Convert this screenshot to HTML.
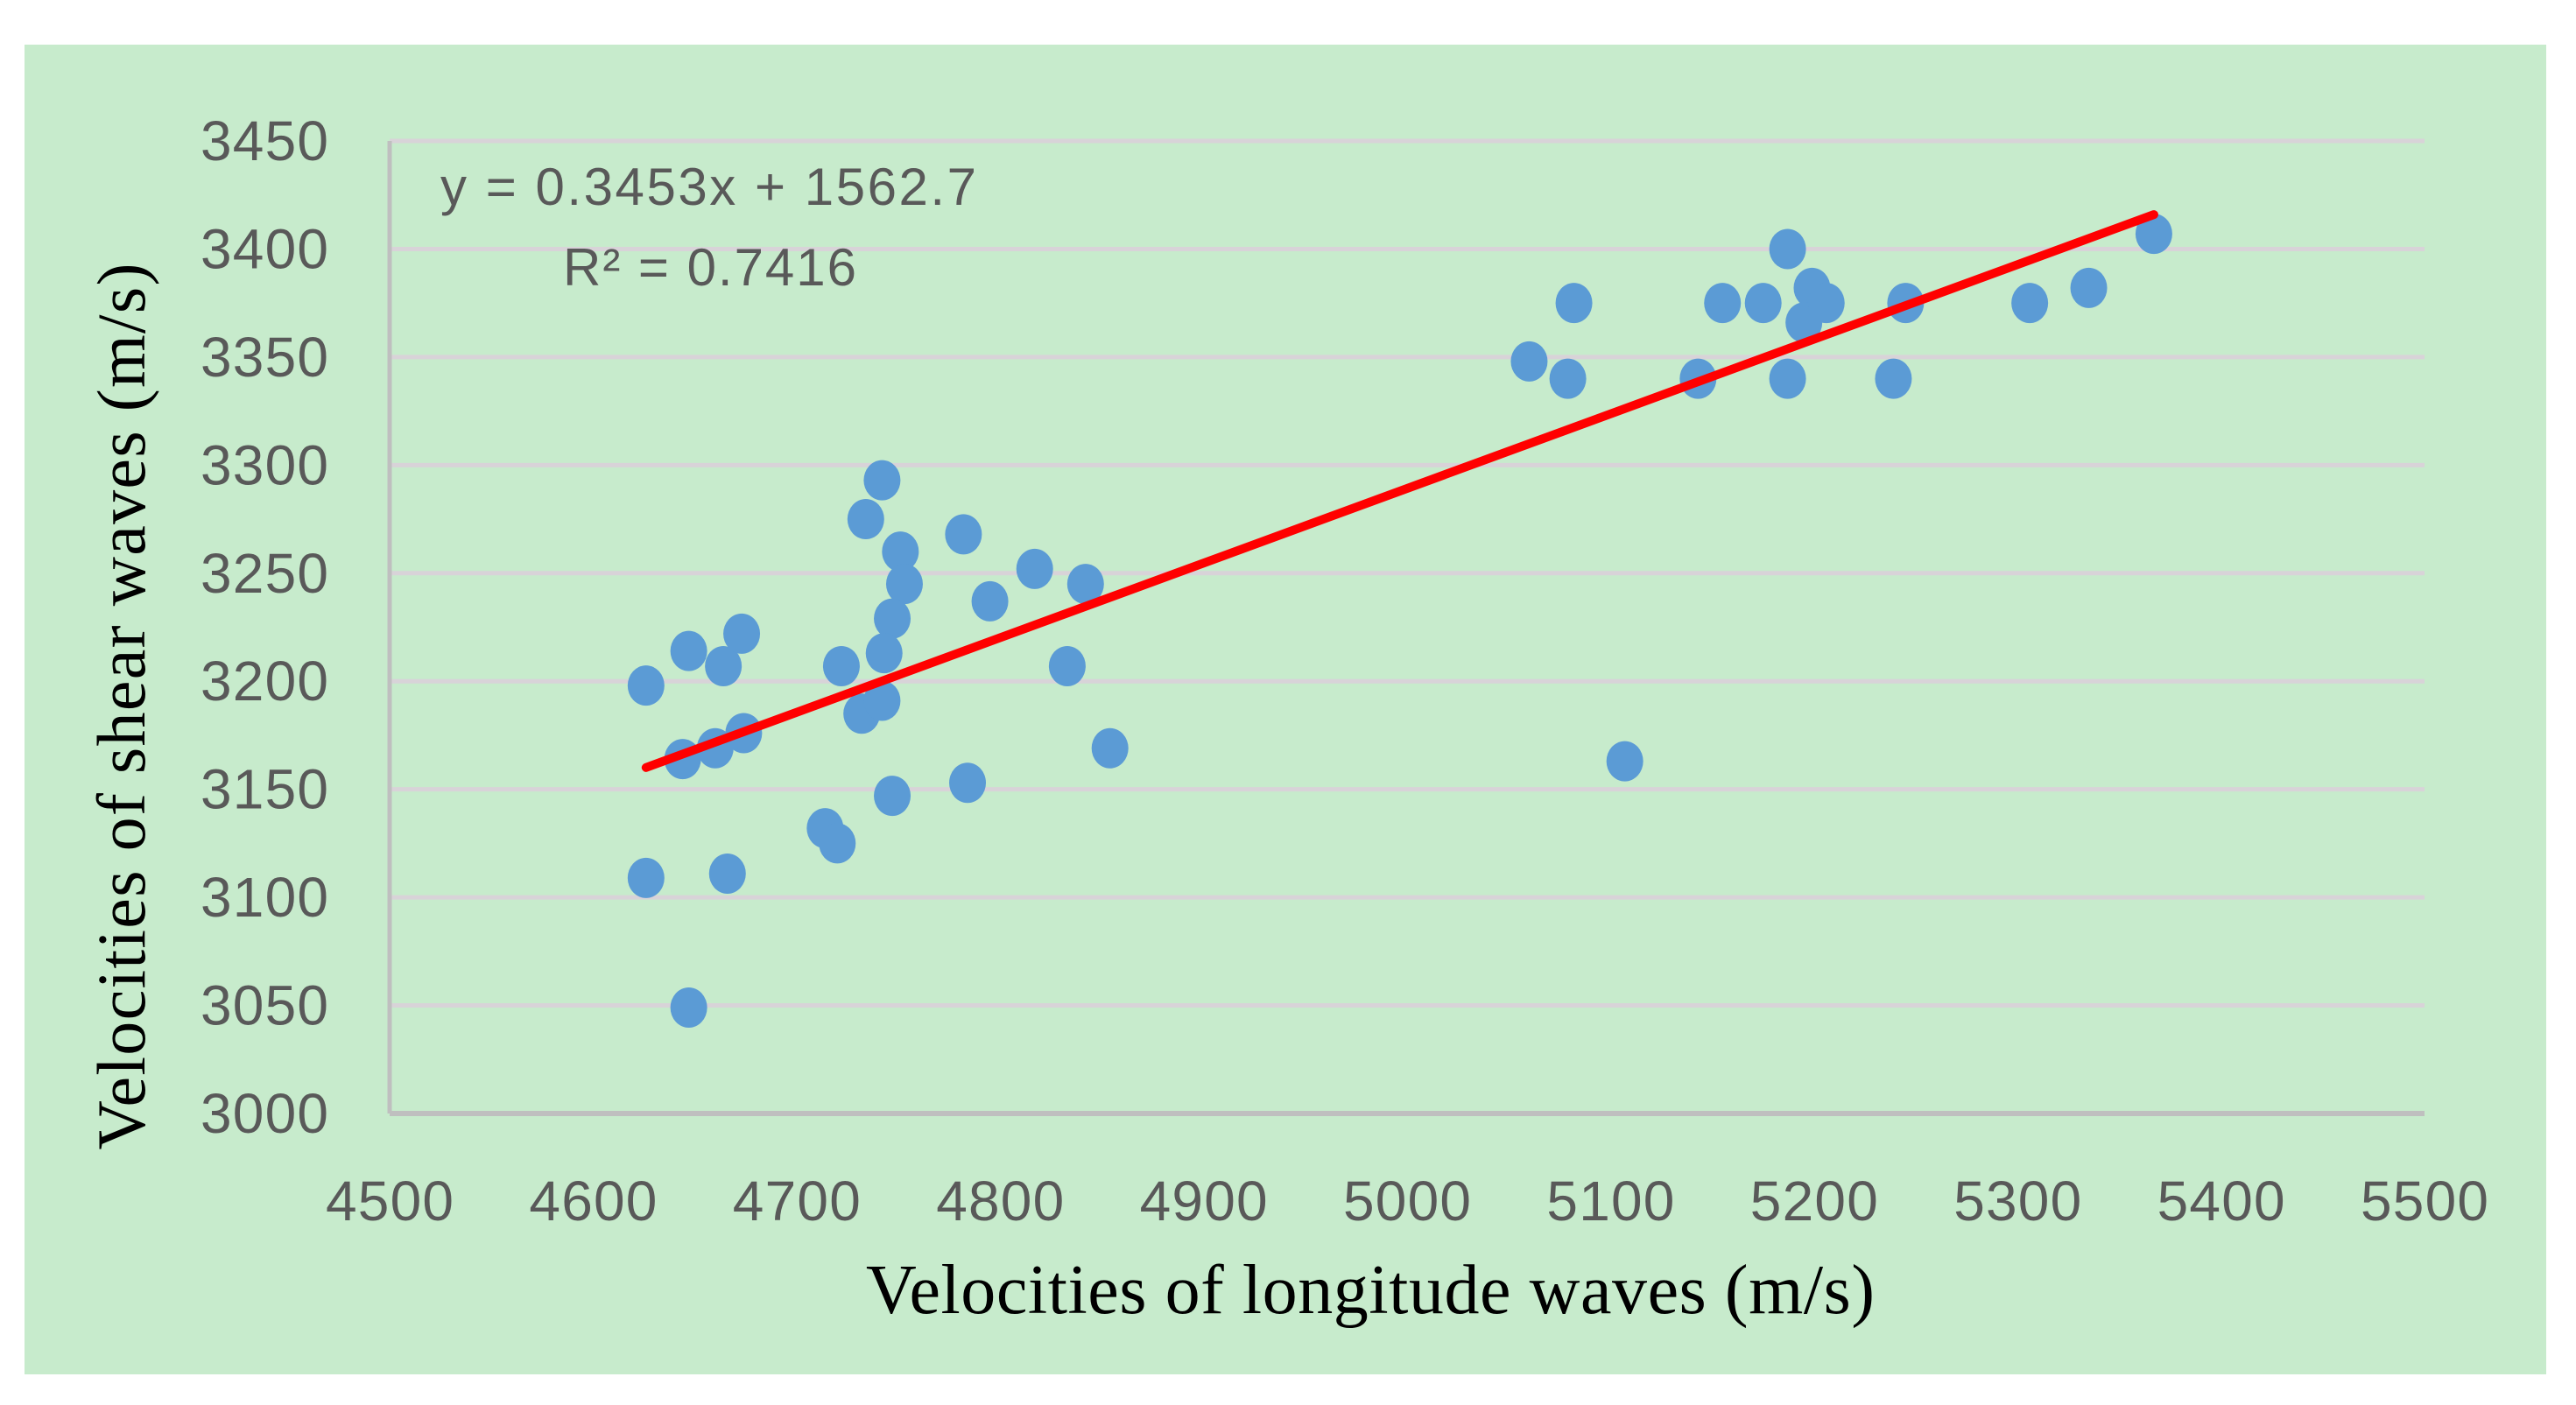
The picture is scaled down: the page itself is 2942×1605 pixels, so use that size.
<!DOCTYPE html>
<html><head><meta charset="utf-8"><style>
html,body{margin:0;padding:0;background:#fff;}
svg{display:block;}
</style></head><body>
<svg id="chart" width="2942" height="1605" viewBox="0 0 2942 1605" xmlns="http://www.w3.org/2000/svg">
<rect x="28" y="51" width="2880" height="1519" fill="#c7ebcc"/>
<g id="grid"></g>
<g id="axes"></g>
<g id="ticks"></g>
<g id="points"></g>
<g id="trend"></g>
<text x="503" y="234" font-family="Liberation Sans, sans-serif" font-size="60" fill="#595959" textLength="612">y = 0.3453x + 1562.7</text>
<text x="643" y="326" font-family="Liberation Sans, sans-serif" font-size="60" fill="#595959" textLength="335">R² = 0.7416</text>
<text x="1565" y="1500" text-anchor="middle" font-family="Liberation Serif, serif" font-size="80" fill="#000" textLength="1152">Velocities of longitude waves (m/s)</text>
<text transform="translate(165,807) rotate(-90)" text-anchor="middle" font-family="Liberation Serif, serif" font-size="78" fill="#000" textLength="1013">Velocities of shear waves (m/s)</text>
</svg>
<script>
const xs=[4626,4644,4626,4647,4647,4664,4673,4660,4674,4666,4714,4720,4722,4734,4742,4751,4753,4747,4743,4732,4742,4747,4782,4784,4795,4817,4842,4833,4854,5060,5079,5082,5107,5143,5155,5175,5187,5187,5199,5195,5206,5239,5245,5306,5335,5367];
const ys=[3198,3164,3109,3049,3214,3207,3222,3169,3176,3111,3132,3125,3207,3275,3293,3260,3245,3229,3213,3185,3191,3147,3268,3153,3237,3252,3245,3207,3169,3348,3340,3375,3163,3340,3375,3375,3400,3340,3382,3366,3375,3340,3375,3375,3382,3407];
const xTicks=[4500,4600,4700,4800,4900,5000,5100,5200,5300,5400,5500];
const yTicks=[3000,3050,3100,3150,3200,3250,3300,3350,3400,3450];
const trendSlope=0.3453, trendIntercept=1562.7, trendRange=[4626,5367];

const NS='http://www.w3.org/2000/svg';
const L=445,R=2769,T=161,B=1272;
const sx=v=>L+(v-4500)/1000*(R-L);
const sy=v=>B-(v-3000)/450*(B-T);
function mk(tag,attrs,parent,text){const e=document.createElementNS(NS,tag);for(const k in attrs)e.setAttribute(k,attrs[k]);if(text!==undefined)e.textContent=text;parent.appendChild(e);return e;}
const grid=document.getElementById('grid'),axes=document.getElementById('axes'),ticks=document.getElementById('ticks'),trend=document.getElementById('trend'),pts=document.getElementById('points');
yTicks.forEach(v=>{
  if(v>3000){const g=mk('line',{x1:L,x2:R,y1:sy(v),y2:sy(v),stroke:'#d8d3d8','stroke-width':5},grid);
  
  }
  const t=mk('text',{x:375,y:sy(v)+22,'text-anchor':'end','font-family':'Liberation Sans, sans-serif','font-size':64,fill:'#595959',textLength:146},ticks,String(v));
  
  
});
xTicks.forEach(v=>{
  const t=mk('text',{x:sx(v),y:1394,'text-anchor':'middle','font-family':'Liberation Sans, sans-serif','font-size':64,fill:'#595959',textLength:146},ticks,String(v));
  
  
});
const ya=mk('line',{x1:L,x2:L,y1:T,y2:B,stroke:'#bfbfbf','stroke-width':5},axes);


const xa=mk('line',{x1:L,x2:R,y1:B,y2:B,stroke:'#bfbfbf','stroke-width':6},axes);


xs.forEach((x,i)=>{
  const c=mk('ellipse',{cx:sx(x),cy:sy(ys[i]),rx:21,ry:23,fill:'#5b9bd5'},pts);
  
  
});
const tl=mk('line',{x1:sx(trendRange[0]),y1:sy(trendSlope*trendRange[0]+trendIntercept),x2:sx(trendRange[1]),y2:sy(trendSlope*trendRange[1]+trendIntercept),stroke:'#ff0000','stroke-width':10,'stroke-linecap':'round'},trend);


</script>
</body></html>
